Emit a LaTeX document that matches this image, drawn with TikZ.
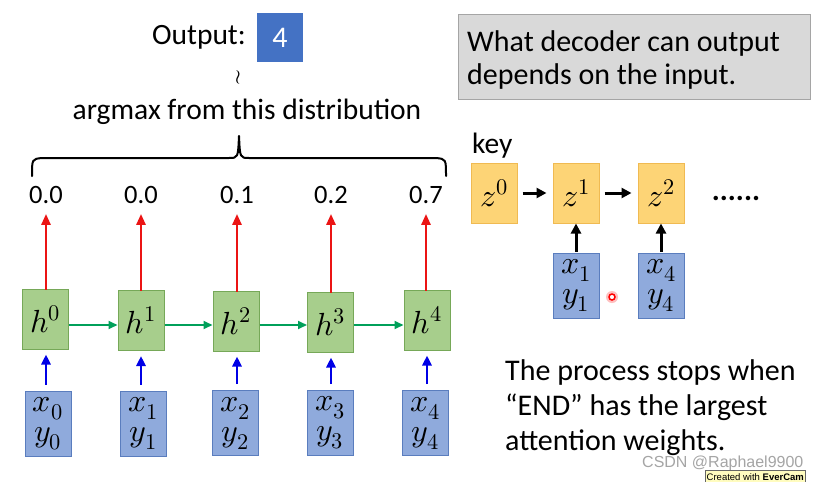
\documentclass[tikz,border=0pt]{standalone}
\usepackage{fontspec}
\usepackage{unicode-math}
\setmainfont{Carlito}
\setmathfont{Latin Modern Math}
\newfontfamily\wmfont{Liberation Sans}
\usetikzlibrary{arrows.meta}
\definecolor{hfill}{RGB}{167,206,140}
\definecolor{hborder}{RGB}{118,168,88}
\definecolor{xfill}{RGB}{143,170,220}
\definecolor{xborder}{RGB}{90,125,190}
\definecolor{zfill}{RGB}{253,212,118}
\definecolor{zborder}{RGB}{240,186,82}
\definecolor{grayfill}{RGB}{217,217,217}
\definecolor{grayborder}{RGB}{165,165,165}
\definecolor{outblue}{RGB}{68,114,196}
\definecolor{arrred}{RGB}{235,20,20}
\definecolor{arrgreen}{RGB}{0,160,90}
\definecolor{arrblue}{RGB}{0,0,230}
\definecolor{wmgray}{RGB}{165,165,165}
\tikzset{
  txt/.style={font=\fontsize{29.5}{34}\selectfont, inner sep=0pt},
  numtxt/.style={font=\fontsize{26.5}{30}\selectfont, inner sep=0pt},
  bigtxt/.style={font=\fontsize{30}{35}\selectfont, inner sep=0pt, align=left},
  mathbox/.style={font=\fontsize{32}{30}\selectfont, inner sep=0pt, line width=1pt},
  hbox/.style={mathbox, draw=hborder, fill=hfill, minimum width=46pt, minimum height=60pt},
  xbox/.style={mathbox, draw=xborder, fill=xfill, minimum width=46pt, minimum height=65pt, align=center},
  zbox/.style={mathbox, draw=zborder, fill=zfill, minimum width=46pt, minimum height=60pt},
  redarr/.style={draw=arrred, line width=2.6pt, -{Triangle[length=11pt,width=9pt]}},
  greenarr/.style={draw=arrgreen, line width=2pt, -{Triangle[length=9pt,width=8pt]}},
  bluearr/.style={draw=arrblue, line width=2.6pt, -{Triangle[length=10pt,width=9pt]}},
  blackarr/.style={draw=black, line width=3pt, -{Triangle[length=10pt,width=10pt]}},
}
\begin{document}
\begin{tikzpicture}[x=1pt,y=-1pt]
\useasboundingbox (0,0) rectangle (820,482);
\fill[white] (0,0) rectangle (820,482);

% top output
\node[txt, anchor=east] (outlbl) at (246,37) {Output:};
\node[fill=outblue, minimum width=46pt, minimum height=49pt, inner sep=0pt, text=white, font=\fontsize{30}{32}\selectfont] (outbox) at (280,37.5) {4};
\node[inner sep=0pt, font=\fontsize{20}{20}\selectfont] (tilde) at (238,77) {$\wr$};
\node[txt] (argmax) at (247,112) {argmax from this distribution};

% brace
\draw[line width=2pt, line cap=round, line join=round] (32,176) .. controls (32,159) .. (42,158) -- (229,158) .. controls (238,158) .. (239,136) .. controls (240,158) .. (249,158) -- (436,158) .. controls (446,159) .. (446,176);

% probabilities
\node[numtxt] (p0) at (46,195) {0.0};
\node[numtxt] (p1) at (141,195) {0.0};
\node[numtxt] (p2) at (237,195) {0.1};
\node[numtxt] (p3) at (331,195) {0.2};
\node[numtxt] (p4) at (426,195) {0.7};

% h boxes
\node[hbox] (h0) at (45.5,319) {$h^0$};
\node[hbox] (h1) at (141,320.5) {$h^1$};
\node[hbox] (h2) at (236,321) {$h^2$};
\node[hbox] (h3) at (330.5,322) {$h^3$};
\node[hbox] (h4) at (427,320) {$h^4$};

% x boxes
\node[xbox] (x0) at (48,423.5) {$x_0$\\$y_0$};
\node[xbox] (x1) at (143.5,423.5) {$x_1$\\$y_1$};
\node[xbox] (x2) at (235.5,423) {$x_2$\\$y_2$};
\node[xbox] (x3) at (330,423) {$x_3$\\$y_3$};
\node[xbox] (x4) at (425.5,423) {$x_4$\\$y_4$};

% red arrows
\foreach \i/\xx in {0/46,1/141,2/237,3/331,4/426}{
  \draw[redarr, shorten <=-1pt, shorten >=10pt] (h\i.north -| \xx,0) -- (p\i.south -| \xx,0);
}
% blue arrows
\foreach \i/\xx in {0/46,1/141,2/237,3/331,4/427}{
  \draw[bluearr, shorten <=6pt, shorten >=5pt] (x\i.north -| \xx,0) -- (h\i.south -| \xx,0);
}
% green arrows
\draw[greenarr] ([yshift=-6pt]h0.east) -- ([yshift=-6pt]h0.east -| h1.west);
\draw[greenarr] ([yshift=-4.5pt]h1.east) -- ([yshift=-4.5pt]h1.east -| h2.west);
\draw[greenarr] ([yshift=-4pt]h2.east) -- ([yshift=-4pt]h2.east -| h3.west);
\draw[greenarr] ([yshift=-3pt]h3.east) -- ([yshift=-3pt]h3.east -| h4.west);

% right side
\node[draw=grayborder, fill=grayfill, line width=1pt, minimum width=352pt, minimum height=85pt, inner sep=0pt] (note) at (634,56.5) {};
\node[bigtxt, anchor=north west] (notetxt) at (467,30) {What decoder can output\\[-2pt]depends on the input.};

\node[txt, anchor=west] (key) at (472,146) {key};
\node[zbox] (z0) at (494,193) {$z^0$};
\node[zbox] (z1) at (576,193) {$z^1$};
\node[zbox] (z2) at (661,193) {$z^2$};
\node[inner sep=0pt, anchor=base, font=\fontsize{30}{30}\selectfont\bfseries] (dots) at (736,200) {......};
\node[xbox] (k1) at (576,285.5) {$x_1$\\$y_1$};
\node[xbox] (k4) at (661,285.5) {$x_4$\\$y_4$};
\draw[blackarr, shorten <=5pt, shorten >=6pt] (z0.east) -- (z1.west);
\draw[blackarr, shorten <=5pt, shorten >=6pt] (z1.east) -- (z2.west);
\draw[blackarr, shorten <=1pt, shorten >=0pt] (k1.north) -- (z1.south);
\draw[blackarr, shorten <=1pt, shorten >=0pt] (k4.north) -- (z2.south);

% laser pointer dot
\fill[red!25] (612,297) circle (6pt);
\draw[red, line width=1.5pt, fill=white] (612,297) circle (3pt);

\node[bigtxt, anchor=north west] (stoptxt) at (505,359) {The process stops when\\``END'' has the largest\\attention weights.};

% watermark
\node[anchor=west, inner sep=0pt, text=wmgray, font=\wmfont\fontsize{16}{16}\selectfont] (wm) at (642,463) {CSDN @Raphael9900};
\node[anchor=north west, draw=black!60, fill=yellow!25, inner sep=1.5pt, font=\wmfont\fontsize{9.5}{10}\selectfont, minimum height=14pt] (ever) at (705,470) {Created with \textbf{EverCam}};
\end{tikzpicture}
\end{document}
